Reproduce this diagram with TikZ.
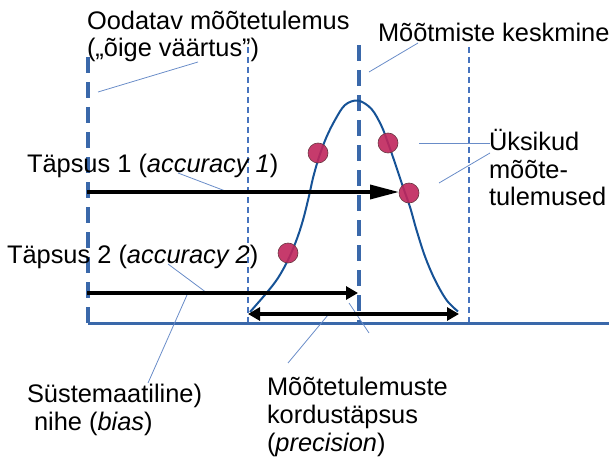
\documentclass[tikz,border=0pt]{standalone}
\usepackage{fontspec}
\setmainfont{Liberation Sans}
\usetikzlibrary{arrows.meta}
\definecolor{axisblue}{RGB}{58,104,170}
\definecolor{thinblue}{RGB}{70,115,190}
\definecolor{curveblue}{RGB}{22,82,150}
\definecolor{leadblue}{RGB}{105,140,200}
\definecolor{dotfill}{RGB}{192,38,92}
\definecolor{dotedge}{RGB}{105,55,65}
\tikzset{
  lbl/.style={anchor=base west, inner sep=0pt, outer sep=0pt, font=\fontsize{25.4}{28}\selectfont},
  thickdash/.style={draw=axisblue, line width=4pt, dash pattern=on 16pt off 9pt},
  thindash/.style={draw=thinblue, line width=1.2pt, dash pattern=on 6pt off 4pt},
  axisline/.style={draw=axisblue, line width=3pt},
  leader/.style={draw=leadblue, line width=0.8pt},
  curveline/.style={draw=curveblue, line width=2pt},
  dot/.style={circle, minimum size=20pt, inner sep=0pt, fill=dotfill, fill opacity=0.9, draw=dotedge, line width=0.6pt},
  bigarrow/.style={draw=black, line width=3.5pt},
}
\begin{document}
\begin{tikzpicture}[x=1pt,y=-1pt]
\useasboundingbox (0,0) rectangle (609,457);
% reference coordinates
\coordinate (ltop) at (88,57);
\coordinate (corner) at (88,323);
\coordinate (aend) at (609,323);
\coordinate (mtop) at (359,45);
\coordinate (mbot) at (359,323);
\coordinate (t1top) at (248,47);
\coordinate (t1bot) at (248,323);
\coordinate (t2top) at (469,47);
\coordinate (t2bot) at (469,323);
% axes and guide lines
\draw[thindash] (t1top) -- (t1bot);
\draw[thindash] (t2top) -- (t2bot);
\draw[thickdash] (ltop) -- (corner);
\draw[thickdash] (mtop) -- (mbot);
\draw[axisline] (corner) -- (aend);
% leader lines
\coordinate (l1a) at (198,62);   \coordinate (l1b) at (98,92);
\coordinate (l2a) at (418,43);   \coordinate (l2b) at (369,72);
\coordinate (l3a) at (419,143);  \coordinate (l3b) at (490,143);
\coordinate (l4a) at (490,153);  \coordinate (l4b) at (439,183);
\coordinate (l5a) at (178,173);  \coordinate (l5b) at (228,192);
\coordinate (l6a) at (168,264);  \coordinate (l6b) at (207,293);
\coordinate (l7a) at (187,295);  \coordinate (l7b) at (148,383);
\coordinate (l8a) at (328,315);  \coordinate (l8b) at (288,363);
\coordinate (l9a) at (349,303);  \coordinate (l9b) at (369,333);
\draw[leader] (l1a) -- (l1b);
\draw[leader] (l2a) -- (l2b);
\draw[leader] (l3a) -- (l3b);
\draw[leader] (l4a) -- (l4b);
\draw[leader] (l5a) -- (l5b);
\draw[leader] (l6a) -- (l6b);
\draw[leader] (l7a) -- (l7b);
\draw[leader] (l8a) -- (l8b);
\draw[leader] (l9a) -- (l9b);
% bell curve
\draw[curveline] plot[smooth, tension=0.55] coordinates {(250,312) (266.5,293) (278,278) (288,260) (296.5,240) (303,220) (309,196) (313,178) (319,157) (326.5,137) (335,120) (345,105) (358,100.5) (371.5,109) (381.5,126) (388,143) (395,163) (403,187) (410,207) (416.5,230) (425,256.5) (435,280) (446.5,300) (458,311.5)};
% measurement dots
\node[dot] (d1) at (318,153) {};
\node[dot] (d2) at (388,143) {};
\node[dot] (d3) at (409,193) {};
\node[dot] (d4) at (288,253) {};
% arrows
\coordinate (a1s) at (87,192);  \coordinate (a1e) at (399,192);
\coordinate (a2s) at (87,293);  \coordinate (a2e) at (358,293);
\coordinate (a3s) at (248,314); \coordinate (a3e) at (459,314);
\draw[bigarrow, -{Triangle[length=29pt,width=14pt]}] (a1s) -- (a1e);
\draw[bigarrow, -{Triangle[length=12pt,width=13pt]}] (a2s) -- (a2e);
\draw[bigarrow, {Triangle[length=12pt,width=13pt]}-{Triangle[length=12pt,width=13pt]}] (a3s) -- (a3e);
% labels
\node[lbl] (o1) at (87,30) {Oodatav mõõtetulemus};
\node[lbl] (o2) at (87,57) {(„õige väärtus”)};
\node[lbl] (mk) at (378,42) {Mõõtmiste keskmine};
\node[lbl] (u1) at (489,150) {Üksikud};
\node[lbl] (u2) at (489,178) {mõõte-};
\node[lbl] (u3) at (489,205) {tulemused};
\node[lbl] (tp1) at (27,172) {Täpsus 1 (\textit{accuracy 1})};
\node[lbl] (tp2) at (7,263) {Täpsus 2 (\textit{accuracy 2})};
\node[lbl] (s1) at (27,402) {Süstemaatiline)};
\node[lbl] (s2) at (27,430) {\ nihe (\textit{bias})};
\node[lbl] (p1) at (267,395) {Mõõtetulemuste};
\node[lbl] (p2) at (267,423) {kordustäpsus};
\node[lbl] (p3) at (267,451) {(\textit{precision})};
\end{tikzpicture}
\end{document}
